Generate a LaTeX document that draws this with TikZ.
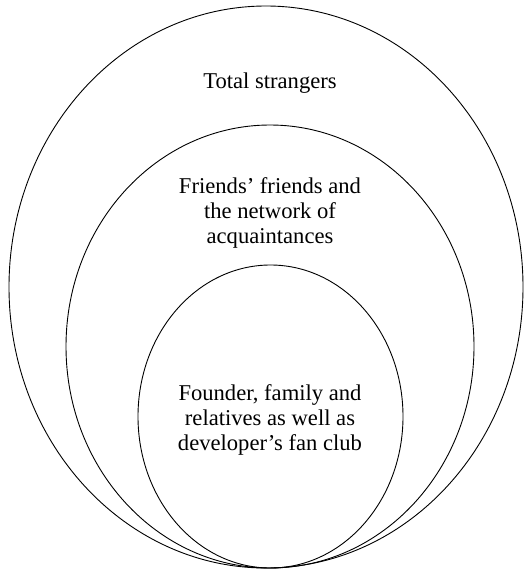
\documentclass[tikz,border=0pt]{standalone}
\usepackage{fontspec}
\setmainfont{Liberation Serif}
\usepackage{tikz}
\usetikzlibrary{shapes.geometric, positioning}

\begin{document}
\begin{tikzpicture}[x=1pt, y=-1pt, line width=0.9pt,
        ring/.style={ellipse, draw, inner sep=0pt},
        circletext/.style={align=center, font=\fontsize{22.6}{25}\selectfont}]
        \useasboundingbox (0,0) rectangle (527,573);

        \node (strangers) [ring, minimum width=514pt, minimum height=562pt] at (266,287) {};
        \node (friends) [ring, minimum width=408pt, minimum height=443pt] at (270,346.5) {};
        \node (founder) [ring, minimum width=265pt, minimum height=303pt] at (270.5,416.5) {};

        % Labels
        \node (strangerslabel) [circletext] at (270,83) {Total strangers};
        \node (friendslabel) [circletext] at (270,213) {Friends' friends and\\the network of\\acquaintances};
        \node (founderlabel) [circletext] at (270,420) {Founder, family and\\relatives as well as\\developer's fan club};

    \end{tikzpicture}
\end{document}
